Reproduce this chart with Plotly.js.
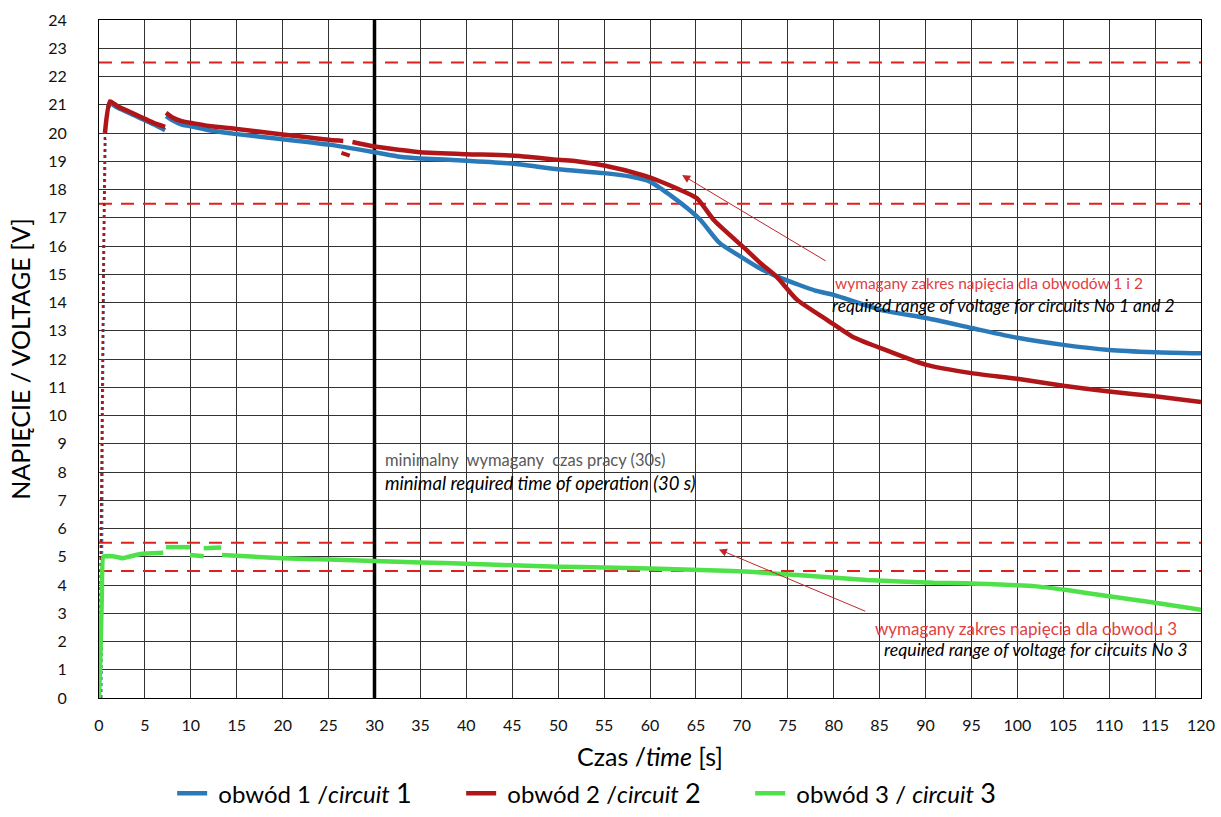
<!DOCTYPE html>
<html>
<head>
<meta charset="utf-8">
<script src="https://cdn.plot.ly/plotly-3.0.1.min.js"></script>
<style>html,body{margin:0;padding:0;background:#fff;}#chart{width:1221px;height:817px;}</style>
</head>
<body>
<div id="chart"></div>
<script>
// ---- data ----
const c1_x = [1.0, 1.2, 2, 3, 4, 5, 6, 7.2, null, 7.3, 8, 9, 10.3, 12, 15, 20, 25.2, 30, 32.8, 35, 40, 45, 50, 55, 58, 60, 62.2, 64, 65.5, 67.6, 70, 72, 74, 76, 78, 80, 85, 90.2, 95, 100, 105, 110, 115, 120];
const c1_y = [20.9, 21.05, 20.9, 20.75, 20.6, 20.45, 20.3, 20.1, null, 20.6, 20.45, 20.3, 20.22, 20.1, 19.96, 19.78, 19.58, 19.32, 19.16, 19.1, 19.02, 18.92, 18.72, 18.58, 18.45, 18.28, 17.8, 17.35, 16.92, 16.1, 15.6, 15.2, 14.9, 14.65, 14.42, 14.27, 13.75, 13.44, 13.1, 12.75, 12.5, 12.32, 12.24, 12.2];
const c2_x = [0.65, 1.2, 2, 3, 4, 5, 6, 7.2, null, 7.3, 8, 9, 10.3, 12, 15, 20, 25.2, 26.6, null, 27.6, 30, 32.8, 35, 40, 45, 50, 52, 55, 59.3, 61, 62.9, 65.1, 67, 70.5, 72, 73.8, 76, 79.3, 82, 85, 90, 95, 100, 105, 110, 115, 120];
const c2_y = [20.0, 21.12, 20.95, 20.8, 20.65, 20.5, 20.35, 20.22, null, 20.72, 20.55, 20.42, 20.34, 20.25, 20.14, 19.95, 19.75, 19.72, null, 19.68, 19.52, 19.4, 19.32, 19.25, 19.2, 19.05, 19.0, 18.85, 18.5, 18.3, 18.04, 17.69, 16.9, 15.86, 15.4, 14.91, 14.1, 13.38, 12.8, 12.4, 11.8, 11.5, 11.3, 11.05, 10.85, 10.68, 10.48];
const c2_blip_x = [26.4, 27.3];
const c2_blip_y = [19.3, 19.2];
const rise1_x = [0.25, 0.3, 0.4, 0.55, 0.7];
const rise1_y = [0, 4, 10, 16, 19.8];
const rise2_x = [0.05, 0.15, 0.3, 0.5, 0.65];
const rise2_y = [0, 4, 10, 16, 20.0];
const c3_x = [0, 0.15, 0.3, 0.47, 1.5, 2.6, 4.5, 7.0, null, 7.3, 9.9, null, 9.9, 11.4, null, 11.4, 13.3, null, 13.4, 20, 25, 30, 35, 40, 45, 50, 55, 60, 65.5, 70.9, 76, 83.6, 90.9, 94.5, 101.8, 105.4, 110, 115, 120];
const c3_y = [0, 1.5, 3.5, 5.0, 5.02, 4.95, 5.1, 5.14, null, 5.34, 5.34, null, 5.06, 5.02, null, 5.3, 5.33, null, 5.06, 4.95, 4.9, 4.85, 4.8, 4.75, 4.7, 4.65, 4.62, 4.58, 4.53, 4.47, 4.35, 4.18, 4.08, 4.06, 3.96, 3.82, 3.6, 3.37, 3.12];
const limits12 = [17.5, 22.5];
const limits3 = [4.5, 5.5];
const minTime = 30;
const xTicks = [0,5,10,15,20,25,30,35,40,45,50,55,60,65,70,75,80,85,90,95,100,105,110,115,120];
const yTicks = [0,1,2,3,4,5,6,7,8,9,10,11,12,13,14,15,16,17,18,19,20,21,22,23,24];

const BLUE = '#2a7ab9', RED = '#b01518', GREEN = '#4fe14a', DASH = '#e0201f';
const FONT = 'Lato, "Open Sans", sans-serif';

const traces = [];
[...limits12, ...limits3].forEach(v => {
  traces.push({x: [0, 120], y: [v, v], mode: 'lines', line: {color: DASH, width: 2, dash: '13px,9px'}, showlegend: false, hoverinfo: 'skip'});
});
traces.push({x: [minTime, minTime], y: [0, 24], mode: 'lines', line: {color: '#000', width: 3.5}, showlegend: false, hoverinfo: 'skip'});
traces.push({x: rise1_x, y: rise1_y, mode: 'lines', line: {color: BLUE, width: 2.5, dash: 'dot'}, showlegend: false, hoverinfo: 'skip'});
traces.push({x: rise2_x, y: rise2_y, mode: 'lines', line: {color: RED, width: 2.5, dash: 'dot'}, showlegend: false, hoverinfo: 'skip'});
traces.push({x: c1_x, y: c1_y, mode: 'lines', name: ' obwód 1 /<i>circuit</i> <span style="font-size:27px">1</span>', line: {color: BLUE, width: 4.5, shape: 'spline', smoothing: 0.6}, connectgaps: false});
traces.push({x: c2_x, y: c2_y, mode: 'lines', name: ' obwód 2 /<i>circuit</i> <span style="font-size:27px">2</span>', line: {color: RED, width: 4.5, shape: 'spline', smoothing: 0.6}, connectgaps: false});
traces.push({x: c2_blip_x, y: c2_blip_y, mode: 'lines', line: {color: RED, width: 4}, showlegend: false, hoverinfo: 'skip'});
traces.push({x: c3_x, y: c3_y, mode: 'lines', name: ' obwód 3 / <i>circuit</i> <span style="font-size:27px">3</span>', line: {color: GREEN, width: 4.5, shape: 'spline', smoothing: 0.3}, connectgaps: false});

const layout = {
  width: 1221, height: 817,
  margin: {l: 99, r: 20, t: 20, b: 119},
  paper_bgcolor: '#fff', plot_bgcolor: '#fff',
  font: {family: FONT, color: '#000'},
  showlegend: true,
  legend: {orientation: 'h', xref: 'container', yref: 'container', x: 0.141, xanchor: 'left', y: 0.056, yanchor: 'top', font: {size: 24, family: FONT}, entrywidth: 244, entrywidthmode: 'pixels', tracegroupgap: 0},
  xaxis: {
    range: [0, 120], tickvals: xTicks, ticktext: xTicks.map(String),
    showgrid: true, gridcolor: '#333', gridwidth: 1,
    showline: true, linecolor: '#000', linewidth: 1, mirror: true,
    zeroline: false, ticks: '', ticklabelstandoff: 13, tickfont: {size: 16, family: FONT, color: '#111'},
    title: {text: 'Czas /<i>time</i> [s]', font: {size: 25, family: FONT}, standoff: 25}
  },
  yaxis: {
    range: [0, 24], tickvals: yTicks, ticktext: yTicks.map(String),
    showgrid: true, gridcolor: '#333', gridwidth: 1,
    showline: true, linecolor: '#000', linewidth: 1, mirror: true,
    zeroline: false, ticks: '', ticklabelstandoff: 28, tickfont: {size: 16, family: FONT, color: '#111'},
    title: {text: 'NAPIĘCIE / VOLTAGE [V]', font: {size: 25, family: FONT}, standoff: 10}
  },
  annotations: [
    {x: 30.9, y: 8.42, xref: 'x', yref: 'y', xanchor: 'left', yanchor: 'middle', showarrow: false, text: 'minimalny  wymagany  czas pracy (30s)', font: {size: 16.5, color: '#595959', family: FONT}},
    {x: 30.9, y: 7.6, xref: 'x', yref: 'y', xanchor: 'left', yanchor: 'middle', showarrow: false, text: '<i>minimal required time of operation (30 s)</i>', font: {size: 18.5, color: '#000', family: FONT}},
    {x: 79.9, y: 14.69, xref: 'x', yref: 'y', xanchor: 'left', yanchor: 'middle', showarrow: false, text: 'wymagany zakres napięcia dla obwodów 1 i 2', font: {size: 15.5, color: '#e0403f', family: FONT}},
    {x: 79.6, y: 13.91, xref: 'x', yref: 'y', xanchor: 'left', yanchor: 'middle', showarrow: false, text: '<i>required range of voltage for circuits No 1 and 2</i>', font: {size: 17.4, color: '#000', family: FONT}},
    {x: 84.3, y: 2.47, xref: 'x', yref: 'y', xanchor: 'left', yanchor: 'middle', showarrow: false, text: 'wymagany zakres napięcia dla obwodu 3', font: {size: 17, color: '#e0403f', family: FONT}},
    {x: 85.3, y: 1.75, xref: 'x', yref: 'y', xanchor: 'left', yanchor: 'middle', showarrow: false, text: '<i>required range of voltage for circuits No 3</i>', font: {size: 17.8, color: '#000', family: FONT}},
    {x: 63.5, y: 18.51, ax: 79.3, ay: 15.44, xref: 'x', yref: 'y', axref: 'x', ayref: 'y', showarrow: true, arrowhead: 2, arrowsize: 1.6, arrowwidth: 1, arrowcolor: '#c0262a', text: ''},
    {x: 67.5, y: 5.26, ax: 83.6, ay: 3.05, xref: 'x', yref: 'y', axref: 'x', ayref: 'y', showarrow: true, arrowhead: 2, arrowsize: 1.6, arrowwidth: 1, arrowcolor: '#c0262a', text: ''}
  ]
};

Plotly.newPlot('chart', traces, layout, {displayModeBar: false, staticPlot: true});
</script>
</body>
</html>
